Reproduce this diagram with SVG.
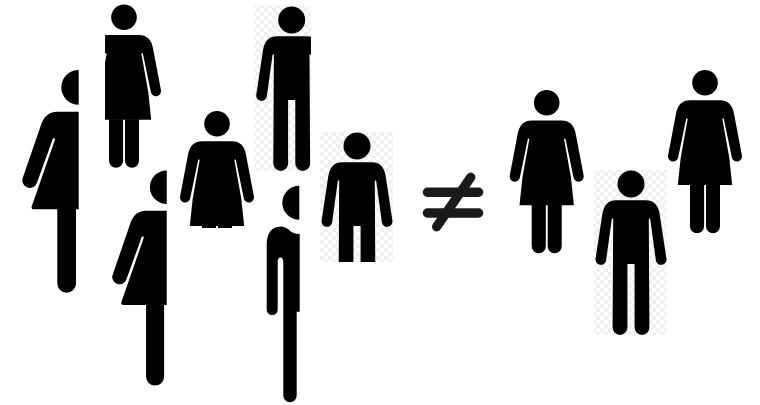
<svg xmlns="http://www.w3.org/2000/svg" width="760" height="405" viewBox="0 0 760 405">
<style>
.k{fill:#000}
.bar{stroke:#1a1a1a;stroke-width:9.4;stroke-linecap:round;fill:none}
</style>
<defs>
<pattern id="chk" width="8" height="8" patternUnits="userSpaceOnUse">
<rect width="8" height="8" fill="#fcfcfc"/>
<rect width="4" height="4" fill="#f0f0f0"/>
<rect x="4" y="4" width="4" height="4" fill="#f0f0f0"/>
</pattern>
<g id="woman">
<circle cx="0" cy="0" r="12.8" class="k"/>
<path class="k" d="M-15,17.6 L15,17.6 Q26.5,17.6 29,31 L36.9,72.5 A5.1,5.1 0 0 1 26.9,75 L18.9,36.5 Q18.2,34.8 17.4,36.5 L24.3,75 L27.2,102.4 L-27.2,102.4 L-24.3,75 L-17.4,36.5 Q-18.2,34.8 -18.9,36.5 L-26.9,75 A5.1,5.1 0 0 1 -36.9,72.5 L-29,31 Q-26.5,17.6 -15,17.6 Z"/>
<path class="k" d="M-15,102 H-0.9 V143.5 A7,7 0 0 1 -15,143.5 Z M1,102 H15 V143.5 A7,7 0 0 1 1,143.5 Z"/>
</g>
<g id="man">
<circle cx="0" cy="0" r="13.5" class="k"/>
<path class="k" d="M-15,16.2 L15,16.2 Q26,16.2 28.5,29 L35.4,74.5 A5.3,5.3 0 0 1 24.9,76.5 L19.2,35 Q18.5,33.4 17.8,35 L18.4,143.6 A7.4,7.4 0 0 1 3.6,143.6 L3.6,80 L-3.6,80 L-3.6,143.6 A7.4,7.4 0 0 1 -18.4,143.6 L-17.8,35 Q-18.5,33.4 -19.2,35 L-24.9,76.5 A5.3,5.3 0 0 1 -35.4,74.5 L-28.5,29 Q-26,16.2 -15,16.2 Z"/>
</g>
<g id="half">
<path class="k" d="M78.7,70 A17.4,17.4 0 0 0 78.7,104.8 Z"/>
<path class="k" d="M78.7,111.7 L57,111.7 Q45,112 41,125 L22.9,177.5 A7.4,7.4 0 0 0 36.8,183.3 L52.8,139 Q54,137 55,139.5 L31.7,206.5 Q31,209.3 34,209.3 L57.3,209.3 L57.3,283.4 A9.35,9.35 0 0 0 76,283.4 L76,209.3 L78.7,209.3 Z"/>
</g>
<clipPath id="c1"><rect x="105" y="0" width="70" height="175"/></clipPath>
<clipPath id="c2"><rect x="254" y="0" width="57" height="172"/></clipPath>
<clipPath id="c3"><rect x="320" y="132" width="73" height="130"/></clipPath>
<clipPath id="c4"><rect x="170" y="100" width="100" height="128"/></clipPath>
</defs>
<rect width="760" height="405" fill="#fff"/>
<g id="figure-left-half"><use href="#half"/></g>
<g id="figure-top-woman" clip-path="url(#c1)"><use href="#woman" x="124" y="17.3"/></g>
<g id="figure-top-man">
<rect x="254" y="6" width="57" height="165" fill="url(#chk)"/>
<g clip-path="url(#c2)"><use href="#man" x="291.7" y="20"/></g>
</g>
<g id="figure-center-woman" clip-path="url(#c4)"><use href="#woman" x="217" y="123.7"/></g>
<g id="figure-lower-half"><use href="#half" transform="translate(90.7 102.8) scale(.966)"/></g>
<g id="figure-lower-man">
<path class="k" d="M299.3,185.7 A17,17 0 0 0 299.3,219.7 Z"/>
<path class="k" d="M266.7,245 Q266.7,227 281,226.5 Q287,227 290,231 Q294,234 299.7,234 L299.7,311.7 L296.7,311.7 L296.7,395.6 A6.7,6.7 0 0 1 283.3,395.6 L283.3,262 Q283,257.5 280.5,257.5 Q277.7,257.5 277.7,262 L277.7,309.5 A5.5,5.5 0 0 1 266.7,309.5 Z"/>
</g>
<g id="figure-middle-man">
<rect x="320" y="132" width="73" height="130" fill="url(#chk)"/>
<g clip-path="url(#c3)"><use href="#man" x="357" y="146"/></g>
</g>
<g id="not-equal">
<path class="bar" d="M427.4,192.3 H478.6 M427.4,213 H478.6"/>
<path class="bar" d="M470.7,177.3 L436.7,226.7"/>
</g>
<g id="figure-right-woman-1"><use href="#woman" x="546.7" y="102.8"/></g>
<g id="figure-right-man">
<rect x="594" y="170" width="73" height="165" fill="url(#chk)"/>
<use href="#man" x="631" y="184"/>
</g>
<g id="figure-right-woman-2"><use href="#woman" x="705" y="82.7"/></g>
</svg>
